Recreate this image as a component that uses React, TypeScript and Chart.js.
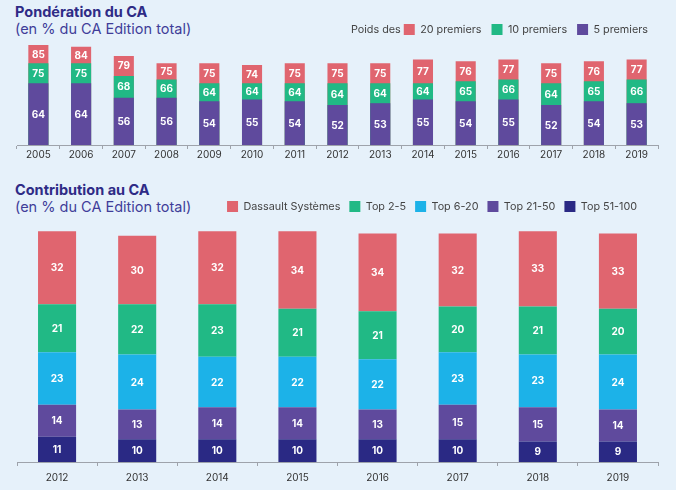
import React, { useEffect, useRef } from 'react';
import { Chart, registerables } from 'chart.js';
Chart.register(...registerables);

// ---- Data: Pondération du CA ----
const years1 = ['2005', '2006', '2007', '2008', '2009', '2010', '2011', '2012', '2013', '2014', '2015', '2016', '2017', '2018', '2019'];
const poids20 = [85, 84, 79, 75, 75, 74, 75, 75, 75, 77, 76, 77, 75, 76, 77];
const poids10 = [75, 75, 68, 66, 64, 64, 64, 64, 64, 64, 65, 66, 64, 65, 66];
const poids5 = [64, 64, 56, 56, 54, 55, 54, 52, 53, 55, 54, 55, 52, 54, 53];
const poidsAxisMin = 30;

// ---- Data: Contribution au CA ----
const years2 = ['2012', '2013', '2014', '2015', '2016', '2017', '2018', '2019'];
const dassault = [32, 30, 32, 34, 34, 32, 33, 33];
const top2to5 = [21, 22, 23, 21, 21, 20, 21, 20];
const top6to20 = [23, 24, 22, 22, 22, 23, 23, 24];
const top21to50 = [14, 13, 14, 14, 13, 15, 15, 14];
const top51to100 = [11, 10, 10, 10, 10, 10, 9, 9];

const PINK = '#e0656f';
const GREEN = '#21b985';
const PURPLE = '#5f4a9d';
const SKY = '#1cb2e8';
const NAVY = '#2a2984';
const BG = '#e6f1fa';
const AXIS = '#9ea3ab';
const FONT = 'Inter, "Noto Sans", sans-serif';
const LEGEND_SIZE = 10.8;

const segLabels = {
  id: 'segLabels',
  afterDatasetsDraw(chart: any, _args: any, opts: any) {
    const ctx = chart.ctx;
    ctx.save();
    ctx.fillStyle = '#ffffff';
    ctx.font = `bold 10px ${FONT}`;
    ctx.textAlign = 'center';
    ctx.textBaseline = 'middle';
    const metas = chart.getSortedVisibleDatasetMetas();
    metas.forEach((meta: any) => {
      meta.data.forEach((el: any, i: number) => {
        const { x, y, base } = el.getProps(['x', 'y', 'base'], true);
        let bottom = base;
        if (opts && opts.overlap) {
          metas.forEach((m2: any) => {
            if (m2 === meta) return;
            const y2 = m2.data[i].y;
            if (y2 > y + 0.5 && y2 < bottom) bottom = y2;
          });
        }
        const v = chart.data.datasets[meta.index].data[i];
        ctx.fillText(String(v), x, (y + bottom) / 2 + 0.5);
      });
    });
    ctx.restore();
  },
};

const prefixPlugin = {
  id: 'legendPrefix',
  afterDraw(chart: any, _a: any, opts: any) {
    if (!opts || !opts.text) return;
    const lg = chart.legend;
    if (!lg || !lg.legendHitBoxes || !lg.legendHitBoxes.length) return;
    const hb = lg.legendHitBoxes[0];
    const ctx = chart.ctx;
    ctx.save();
    ctx.fillStyle = '#444';
    ctx.font = `${LEGEND_SIZE}px ${FONT}`;
    ctx.textAlign = 'right';
    ctx.textBaseline = 'middle';
    ctx.fillText(opts.text, hb.left - 3, hb.top + hb.height / 2);
    ctx.restore();
  },
};

const legendShift = {
  id: 'legendShift',
  afterLayout(chart: any, _a: any, opts: any) {
    if (opts && opts.dx && chart.legend) {
      chart.legend.right -= opts.dx;
    }
  },
};

function xAxis(padding: number) {
  return {
    stacked: true,
    grid: { display: true, drawOnChartArea: false, drawTicks: true, tickLength: 4, color: AXIS, offset: true },
    border: { display: true, color: AXIS, width: 1 },
    ticks: { color: '#333', font: { size: 10, family: FONT }, padding },
  };
}

function legendOpts(padding: number) {
  return {
    display: true,
    position: 'top' as const,
    align: 'end' as const,
    labels: {
      boxWidth: 11,
      boxHeight: 11,
      padding,
      color: '#444',
      font: { size: LEGEND_SIZE, family: FONT },
      sort: (a: any, b: any) => b.datasetIndex - a.datasetIndex,
    },
  };
}

export default function App() {
  const ref1 = useRef<HTMLCanvasElement>(null);
  const ref2 = useRef<HTMLCanvasElement>(null);

  useEffect(() => {
    document.body.style.margin = '0';
    document.body.style.background = BG;
    Chart.defaults.font.family = FONT;

    const barCommon1 = { borderWidth: 0, barPercentage: 0.94, categoryPercentage: 0.5, base: poidsAxisMin };
    const c1 = new Chart(ref1.current!, {
      type: 'bar',
      data: {
        labels: years1,
        datasets: [
          { label: '5 premiers', data: poids5, backgroundColor: PURPLE, ...barCommon1 },
          { label: '10 premiers', data: poids10, backgroundColor: GREEN, ...barCommon1 },
          { label: '20 premiers', data: poids20, backgroundColor: PINK, ...barCommon1 },
        ] as any,
      },
      options: {
        animation: false,
        responsive: false,
        layout: { padding: { left: 17, right: 18, top: 14, bottom: 4 } },
        scales: {
          x: xAxis(0) as any,
          y: { stacked: false, display: false, min: poidsAxisMin, max: 85 },
        },
        plugins: {
          legend: legendOpts(10) as any,
          tooltip: { enabled: false },
          segLabels: { overlap: true },
          legendPrefix: { text: 'Poids des' },
        } as any,
      },
      plugins: [segLabels, prefixPlugin],
    });

    const barCommon2 = { borderWidth: 0, barPercentage: 0.95, categoryPercentage: 0.5 };
    const c2 = new Chart(ref2.current!, {
      type: 'bar',
      data: {
        labels: years2,
        datasets: [
          { label: 'Top 51-100', data: top51to100, backgroundColor: NAVY, ...barCommon2 },
          { label: 'Top 21-50', data: top21to50, backgroundColor: PURPLE, ...barCommon2 },
          { label: 'Top 6-20', data: top6to20, backgroundColor: SKY, ...barCommon2 },
          { label: 'Top 2-5', data: top2to5, backgroundColor: GREEN, ...barCommon2 },
          { label: 'Dassault Systèmes', data: dassault, backgroundColor: PINK, ...barCommon2 },
        ],
      },
      options: {
        animation: false,
        responsive: false,
        layout: { padding: { left: 17, right: 18, top: 14, bottom: 0 } },
        scales: {
          x: xAxis(6) as any,
          y: { stacked: true, display: false, min: 0, max: 105 },
        },
        plugins: {
          legend: legendOpts(9) as any,
          tooltip: { enabled: false },
          segLabels: { overlap: false },
          legendShift: { dx: 12 },
        } as any,
      },
      plugins: [segLabels, legendShift],
    });

    return () => {
      c1.destroy();
      c2.destroy();
    };
  }, []);

  const titleStyle: React.CSSProperties = {
    position: 'absolute',
    left: 15,
    fontFamily: FONT,
    fontWeight: 700,
    fontSize: 14.5,
    color: '#2e2b86',
    lineHeight: '17px',
    whiteSpace: 'nowrap',
  };
  const subStyle: React.CSSProperties = {
    position: 'absolute',
    left: 15,
    fontFamily: FONT,
    fontWeight: 400,
    fontSize: 14.5,
    color: '#403d99',
    lineHeight: '17px',
    whiteSpace: 'nowrap',
  };

  return (
    <div style={{ position: 'relative', width: 676, height: 490, background: BG, overflow: 'hidden' }}>
      <div style={{ ...titleStyle, top: 3 }}>Pondération du CA</div>
      <div style={{ ...subStyle, top: 20 }}>(en % du CA Edition total)</div>
      <div style={{ ...titleStyle, top: 181 }}>Contribution au CA</div>
      <div style={{ ...subStyle, top: 198 }}>(en % du CA Edition total)</div>
      <canvas ref={ref1} width={676} height={165} style={{ position: 'absolute', left: 0, top: 0 }} />
      <canvas ref={ref2} width={676} height={312} style={{ position: 'absolute', left: 0, top: 178 }} />
    </div>
  );
}
